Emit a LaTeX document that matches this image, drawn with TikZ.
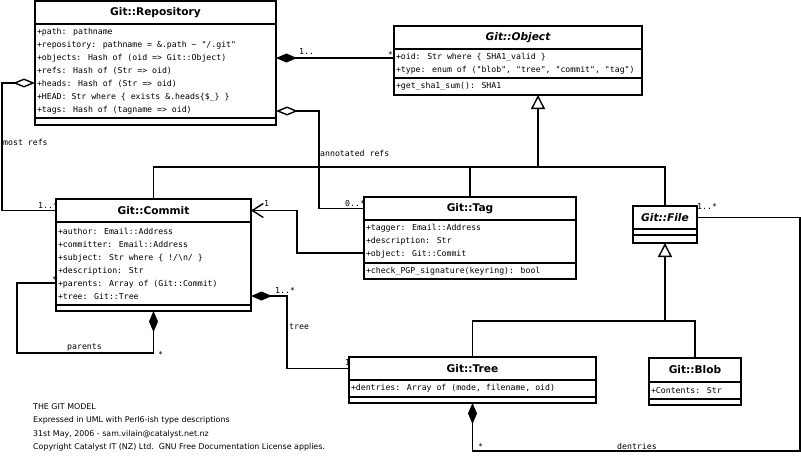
\documentclass[tikz,border=0pt]{standalone}
\usepackage{fontspec}
\setmainfont{DejaVu Sans}
\newfontfamily\umlmono{DejaVu Sans Mono}
\usetikzlibrary{positioning,arrows.meta}
\newcommand\attrfont{\umlmono\fontsize{8.2}{13}\selectfont}
\newcommand\clsfont{\fontsize{10.6}{12}\selectfont\bfseries}
\newcommand\notefont{\fontsize{7.9}{13.6}\selectfont}
\tikzset{
  umlbox/.style={draw, line width=1.4pt, inner sep=0pt, outer sep=0pt},
  clshead/.style={umlbox, font=\clsfont, minimum width=#1, minimum height=23pt, anchor=north west},
  clsattr/.style 2 args={umlbox, font=\attrfont, align=left, inner xsep=2pt, minimum width=#1, text width=#2,
    execute at begin node={\spaceskip=0pt\xspaceskip=0pt}},
  clsempty/.style={umlbox, minimum width=#1},
  wire/.style={line width=1.4pt},
  compo/.style={wire, {Diamond[length=21pt,width=9pt]}-},
  compoend/.style={wire, -{Diamond[length=21pt,width=9pt]}},
  aggr/.style={wire, {Diamond[open,length=22pt,width=9pt]}-},
  assoc/.style={wire, -{Straight Barb[length=11pt,width=14pt]}},
  inherit/.style={wire, -{Triangle[open,length=14pt,width=14pt]}},
  lbl/.style={font=\attrfont, inner sep=0pt, anchor=west}
}
\begin{document}
\begin{tikzpicture}[x=1pt, y=-1pt]
	\useasboundingbox (0,0) rectangle (801,466);

	\node[clshead=241pt] (repohead) at (35,1) {Git::Repository};
	\node[clsattr={241pt}{237pt}, minimum height=94pt, below=0pt of repohead] (repoattr) {+path: pathname\\+repository: pathname = \&.path \textasciitilde{} "/.git"\\+objects: Hash of (oid => Git::Object)\\+refs: Hash of (Str => oid)\\+heads: Hash of (Str => oid)\\+HEAD: Str where \{ exists \&.heads\{\$\_\} \}\\+tags: Hash of (tagname => oid)};
	\node[clsempty=241pt, minimum height=7pt, below=0pt of repoattr] (repoops) {};

	\node[clshead=248pt, font=\clsfont\itshape] (objhead) at (394,26) {Git::Object};
	\node[clsattr={248pt}{244pt}, minimum height=29pt, below=0pt of objhead] (objattr) {+oid: Str where \{ SHA1\_valid \}\\+type: enum of ("blob", "tree", "commit", "tag")};
	\node[clsattr={248pt}{244pt}, minimum height=17pt, below=0pt of objattr] (objops) {+get\_sha1\_sum(): SHA1};

	\node[clshead=195pt] (commithead) at (56,199) {Git::Commit};
	\node[clsattr={195pt}{191pt}, minimum height=83pt, below=0pt of commithead] (commitattr) {+author: Email::Address\\+committer: Email::Address\\+subject: Str where \{ !/\textbackslash n/ \}\\+description: Str\\+parents: Array of (Git::Commit)\\+tree: Git::Tree};
	\node[clsempty=195pt, minimum height=6pt, below=0pt of commitattr] (commitops) {};

	\node[clshead=212pt] (taghead) at (364,197) {Git::Tag};
	\node[clsattr={212pt}{208pt}, minimum height=43pt, below=0pt of taghead] (tagattr) {+tagger: Email::Address\\+description: Str\\+object: Git::Commit};
	\node[clsattr={212pt}{208pt}, minimum height=16pt, below=0pt of tagattr] (tagops) {+check\_PGP\_signature(keyring): bool};

	\node[clshead=64pt, font=\clsfont\itshape] (filehead) at (633,206) {Git::File};
	\node[clsempty=64pt, minimum height=6pt, below=0pt of filehead] (fileattr) {};
	\node[clsempty=64pt, minimum height=8pt, below=0pt of fileattr] (fileops) {};

	\node[clshead=247pt] (treehead) at (349,357) {Git::Tree};
	\node[clsattr={247pt}{243pt}, minimum height=17pt, below=0pt of treehead] (treeattr) {+dentries: Array of (mode, filename, oid)};
	\node[clsempty=247pt, minimum height=6pt, below=0pt of treeattr] (treeops) {};

	\node[clshead=92pt, minimum height=24pt] (blobhead) at (649,358) {Git::Blob};
	\node[clsattr={92pt}{88pt}, minimum height=17pt, below=0pt of blobhead] (blobattr) {+Contents: Str};
	\node[clsempty=92pt, minimum height=6pt, below=0pt of blobattr] (blobops) {};

	\coordinate (objbar) at (538,167);
	\draw[wire] (commithead.north) |- (objbar) -| (filehead.north);
	\draw[wire] (taghead.north) -- (taghead.north |- objbar);
	\draw[inherit] (objbar) -- (objbar |- objops.south);

	\coordinate (filebar) at (665,321);
	\draw[wire] (treehead.north) |- (filebar) -| (blobhead.north);
	\draw[inherit] (filebar) -- (fileops.south);

	\coordinate (objref) at ([yshift=-34pt]repoattr.north east);
	\draw[compo] (objref) -- (objref -| objattr.west);
	\node[lbl] (objfrom) at (299,52) {1..};
	\node[lbl, anchor=south east] (objto) at ([xshift=-1pt]objref -| objattr.west) {*};

	\coordinate (headref) at ([yshift=-59pt]repoattr.north west);
	\draw[aggr] (headref) -| ([xshift=-54pt]commithead.west) -- (commithead.west);
	\node[lbl] (mostrefs) at (3,142) {most refs};
	\node[lbl] (mostto) at (38,205) {1..*};

	\coordinate (tagref) at ([yshift=-87pt]repoattr.north east);
	\draw[aggr] (tagref) -| ([xshift=-45pt]taghead.west) -- (taghead.west);
	\node[lbl] (annrefs) at (320,153) {annotated refs};
	\node[lbl] (annto) at (345,204) {0..*};

	\coordinate (tagobj) at ([yshift=-33pt]tagattr.north west);
	\draw[assoc] (tagobj) -| ([xshift=46pt]commithead.east) -- (commithead.east);
	\node[lbl] (tagone) at (264,204) {1};

	\coordinate (treeref) at ([yshift=-74pt]commitattr.north east);
	\draw[compo] (treeref) -| ([xshift=-62pt]treehead.west) -- (treehead.west);
	\node[lbl] (treefrom) at (275,290) {1..*};
	\node[lbl] (treename) at (289,327) {tree};
	\node[lbl] (treeone) at (345,363) {1};

	\coordinate (parentref) at ([yshift=-61pt]commitattr.north west);
	\draw[compoend] (parentref) -| ([xshift=-39pt,yshift=-42pt]commitops.south west) -| (commitops.south);
	\node[lbl] (parfrom) at (52,279) {*};
	\node[lbl] (parname) at (67,347) {parents};
	\node[lbl] (parto) at (158,354) {*};

	\coordinate (dcorner) at (800,451);
	\draw[compoend] (filehead.east) -| (dcorner) -| (treeops.south);
	\node[lbl] (filefrom) at (697,206) {1..*};
	\node[lbl] (dentto) at (478,446) {*};
	\node[lbl] (dentname) at (617,446) {dentries};

	\node[font=\notefont, align=left, anchor=north west, inner sep=0pt] (credits) at (33,403) {THE GIT MODEL\\Expressed in UML with Perl6-ish type descriptions\\31st May, 2006 - sam.vilain@catalyst.net.nz\\Copyright Catalyst IT (NZ) Ltd.~~GNU Free Documentation License applies.};
\end{tikzpicture}
\end{document}
